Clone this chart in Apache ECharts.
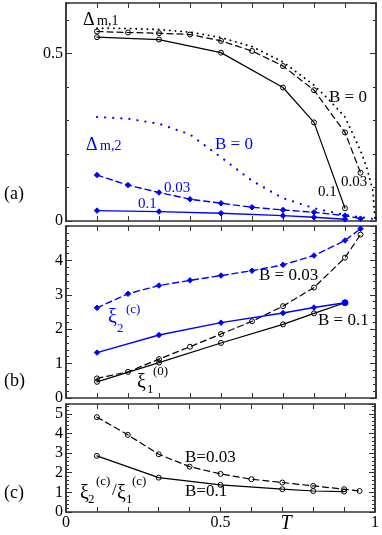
<!DOCTYPE html>
<html><head><meta charset="utf-8">
<script src="https://cdn.jsdelivr.net/npm/echarts@6/dist/echarts.min.js"></script>
<style>html,body{margin:0;padding:0;background:#fff}#c{width:382px;height:535px}</style>
</head><body><div id="c"></div>
<script>
// ---- data ----
var T_full = [0.1,0.2,0.3,0.4,0.5,0.6,0.7,0.8,0.9,0.95];
var T_sparse = [0.1,0.3,0.5,0.7,0.8,0.9];
var T_dotA1 = [0.1,0.2,0.3,0.4,0.5,0.6,0.7,0.8,0.85,0.9,0.95,0.97,0.99,0.997];
var a_gap1_B0 = [0.575,0.574,0.571,0.563,0.547,0.52,0.474,0.405,0.36,0.31,0.21,0.16,0.09,0.0];
var a_gap1_B003 = [0.565,0.562,0.560,0.556,0.537,0.507,0.462,0.39,0.264,0.144];
var a_gap1_B01 = [0.548,0.541,0.502,0.398,0.294,0.038];
var T_dotA2 = [0.1,0.2,0.3,0.4,0.5,0.6,0.7,0.8,0.9,1.0];
var a_gap2_B0 = [0.31,0.305,0.29,0.258,0.19,0.12,0.068,0.038,0.018,0.005];
var a_gap2_B003 = [0.137,0.107,0.085,0.065,0.053,0.041,0.033,0.026,0.016,0.007];
var a_gap2_B01 = [0.031,0.028,0.023,0.016,0.011,0.005];
var b_xi2_B003 = [2.62,3.03,3.27,3.42,3.56,3.70,3.87,4.14,4.58,4.92];
var b_xi1_B003 = [0.57,0.76,1.13,1.49,1.86,2.23,2.67,3.21,4.08,4.75];
var b_xi1_B01 = [0.47,1.03,1.6,2.14,2.46,2.77];
var b_xi2_B01 = [1.32,1.83,2.19,2.47,2.63,2.77];
var c_ratio_B003 = [4.83,3.93,2.94,2.31,1.94,1.67,1.5,1.33,1.16,1.07];
var c_ratio_B01 = [2.86,1.75,1.38,1.16,1.07,1.04];
var xTickLabels = ['0','0.5','1'];

// ---- build ----
var FONT = '"Liberation Serif", serif';
var AX = '#333';
var BLUE = '#0000ff';
function pts(ts, vs){ return ts.map(function(t,i){ return [t, vs[i]]; }); }

var grids = [
  {left:66, right:6, top:3, height:218},
  {left:66, right:6, top:226, height:172},
  {left:66, right:6, top:404, height:108}
];
var yCfg = [
  {max:0.65, minor:0.1, major:0.5},
  {max:5, minor:0.2, major:1},
  {max:5.5, minor:0.2, major:1}
];
var xAxes = [], yAxes = [];
grids.forEach(function(g, gi){
  ['bottom','top'].forEach(function(pos){
    xAxes.push({
      gridIndex: gi, type:'value', position: pos, min:0, max:1, interval:0.1,
      axisLine:{show:true, onZero:false, lineStyle:{color:AX, width:1.5}},
      axisTick:{show:true, inside:true, length:5, lineStyle:{color:AX, width:1}},
      splitLine:{show:false},
      axisLabel:{show: (gi===2 && pos==='bottom'), margin:3, fontFamily:FONT, fontSize:16, color:'#000',
        formatter:function(v){
          if (Math.abs(v) < 1e-6) return xTickLabels[0];
          if (Math.abs(v-0.5) < 1e-6) return xTickLabels[1];
          if (Math.abs(v-1) < 1e-6) return xTickLabels[2];
          return '';
        }}
    });
  });
  var c = yCfg[gi];
  ['left','right'].forEach(function(pos){
    yAxes.push({
      gridIndex: gi, type:'value', position:pos, min:0, max:c.max, interval:c.minor,
      axisLine:{show:true, onZero:false, lineStyle:{color:AX, width:1.5}},
      axisTick:{show:true, inside:true, length:3, lineStyle:{color:AX, width:1}},
      splitLine:{show:false}, axisLabel:{show:false}
    });
    yAxes.push({
      gridIndex: gi, type:'value', position:pos, min:0, max:c.max, interval:c.major,
      axisLine:{show:true, onZero:false, lineStyle:{color:AX, width:1.5}},
      axisTick:{show:true, inside:true, length:6, lineStyle:{color:AX, width:1}},
      splitLine:{show:false},
      axisLabel:{show: pos==='left', showMaxLabel:false, margin:3, fontFamily:FONT, fontSize:16, color:'#000',
        formatter:function(v){ return String(Math.round(v*100)/100); }}
    });
  });
});

function ser(gi, data, color, dash, width, symbol, size, fillColor){
  return {
    type:'line', xAxisIndex: gi*2, yAxisIndex: gi*4+1, data:data,
    symbol: symbol || 'none', symbolSize: size || 6, showSymbol: !!symbol,
    itemStyle: symbol ? {color: fillColor, borderColor: color, borderWidth: 1} : undefined,
    lineStyle:{color:color, width:width, type:dash, cap:'round'},
    emphasis:{disabled:true}, silent:true, z: 3
  };
}
var DOT = [0.1, 5.5], DOTB = [0.1, 8], DASH = [6, 4];
var blueLast = pts(T_sparse, b_xi2_B01);
blueLast[blueLast.length-1] = {value: blueLast[blueLast.length-1], symbol:'circle', symbolSize:6};
var CS = 5, DS = 5.5;

var series = [
  ser(0, pts(T_dotA1, a_gap1_B0), '#000', DOT, 1.9),
  ser(0, pts(T_full, a_gap1_B003), '#000', DASH, 1.2, 'circle', CS, 'rgba(0,0,0,0)'),
  ser(0, pts(T_sparse, a_gap1_B01), '#000', 'solid', 1.2, 'circle', CS, 'rgba(0,0,0,0)'),
  ser(0, pts(T_dotA2, a_gap2_B0), BLUE, DOTB, 2.2),
  ser(0, pts(T_full, a_gap2_B003), BLUE, DASH, 1.4, 'diamond', DS, BLUE),
  ser(0, pts(T_sparse, a_gap2_B01), BLUE, 'solid', 1.4, 'diamond', DS, BLUE),
  ser(1, pts(T_full, b_xi2_B003), BLUE, DASH, 1.4, 'diamond', DS, BLUE),
  ser(1, pts(T_full, b_xi1_B003), '#000', DASH, 1.2, 'circle', CS, 'rgba(0,0,0,0)'),
  ser(1, pts(T_sparse, b_xi1_B01), '#000', 'solid', 1.2, 'circle', CS, 'rgba(0,0,0,0)'),
  ser(1, blueLast, BLUE, 'solid', 1.4, 'diamond', DS, BLUE),
  ser(2, pts(T_full, c_ratio_B003), '#000', DASH, 1.2, 'circle', CS, 'rgba(0,0,0,0)'),
  ser(2, pts(T_sparse, c_ratio_B01), '#000', 'solid', 1.2, 'circle', CS, 'rgba(0,0,0,0)')
];

function txt(s, x, y, size, color, extra){
  extra = extra || {};
  return {type:'text', x:x, y:y, silent:true, z:10,
    style:{text:s, fill:color||'#000', fontFamily:FONT, fontSize:size,
      fontStyle: extra.italic ? 'italic' : 'normal',
      align: extra.align || 'left', verticalAlign:'middle'}};
}
var graphics = [
  txt('Δ', 83, 20, 18), txt('m,1', 97, 21, 14),
  txt('B = 0', 329, 98, 17),
  txt('0.1', 318, 192, 15),
  txt('0.03', 341, 182, 15),
  txt('Δ', 86, 145, 18, BLUE), txt('m,2', 100, 146, 14, BLUE),
  txt('B = 0', 215, 145, 17, BLUE),
  txt('0.03', 164, 188, 15, BLUE),
  txt('0.1', 138, 204, 15, BLUE),
  txt('(a)', 4, 194, 18),
  txt('B = 0.03', 259, 276, 17),
  txt('B = 0.1', 318, 321, 17),
  txt('ξ', 108, 318, 20, BLUE), txt('2', 117, 329, 13, BLUE), txt('(c)', 126, 310, 13, BLUE),
  txt('ξ', 137, 383, 20), txt('1', 147, 390, 13), txt('(0)', 153, 372, 13),
  txt('(b)', 4, 381, 18),
  txt('ξ', 80, 494, 20), txt('2', 88, 500, 13), txt('(c)', 96, 482, 13),
  txt('/', 112, 491, 17),
  txt('ξ', 117, 494, 20), txt('1', 126, 500, 13), txt('(c)', 132, 482, 13),
  txt('B=0.03', 185, 458, 17),
  txt('B=0.1', 185, 492, 17),
  txt('(c)', 4, 493, 18),
  txt('T', 286, 524, 20, '#000', {italic:true, align:'center'})
];

var chart = echarts.init(document.getElementById('c'), null, {renderer:'canvas'});
chart.setOption({
  animation:false, backgroundColor:'#fff',
  grid: grids, xAxis: xAxes, yAxis: yAxes, series: series, graphic: graphics
});
</script></body></html>
